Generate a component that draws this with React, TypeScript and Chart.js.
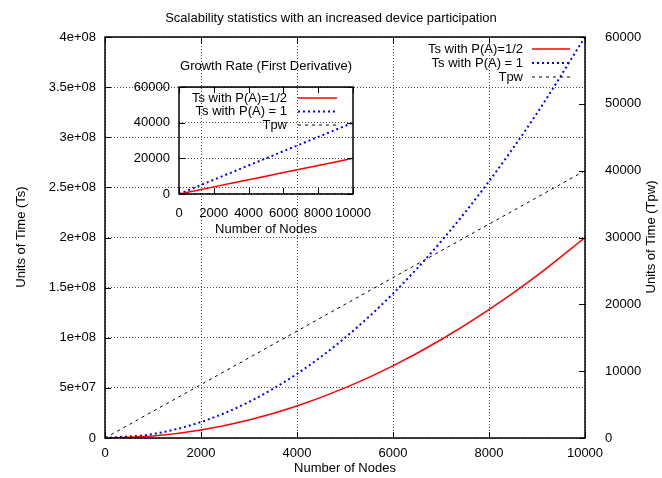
import React, { useEffect, useRef } from "react";
import { Chart, registerables } from "chart.js";

Chart.register(...registerables);

const FONT = '"Liberation Sans", Arial, Helvetica, sans-serif';
const FS = 13;

// ---- data ----
const nodes = [0, 1000, 2000, 3000, 4000, 5000, 6000, 7000, 8000, 9000, 10000];
const tsHalf = [0, 2e6, 8e6, 18e6, 32e6, 50e6, 72e6, 98e6, 128e6, 162e6, 200e6];
const tsOne = [0, 4e6, 16e6, 36e6, 64e6, 100e6, 144e6, 196e6, 256e6, 324e6, 400e6];
const tpw = [0, 4000, 8000, 12000, 16000, 20000, 24000, 28000, 32000, 36000, 40000];

const rateHalf = [0, 2000, 4000, 6000, 8000, 10000, 12000, 14000, 16000, 18000, 20000];
const rateOne = [0, 4000, 8000, 12000, 16000, 20000, 24000, 28000, 32000, 36000, 40000];
const rateTpw = [4, 4, 4, 4, 4, 4, 4, 4, 4, 4, 4];

const seriesLabels = ["Ts with P(A)=1/2", "Ts with P(A) = 1", "Tpw"];
const seriesColors = ["#ff0000", "#0000ff", "#000000"];
const seriesDash = [[], [2, 3], [3, 4]];
const seriesWidth = [1.5, 2, 1];

const mainTitle = "Scalability statistics with an increased device participation";
const insetTitle = "Growth Rate (First Derivative)";
const xTitle = "Number of Nodes";
const yLeftTitle = "Units of Time (Ts)";
const yRightTitle = "Units of Time (Tpw)";

const xTicks = { min: 0, max: 10000, step: 2000 };
const yLeftTicks = { min: 0, max: 4e8, step: 5e7 };
const yRightTicks = { min: 0, max: 60000, step: 10000 };
const insetYTicks = { min: 0, max: 60000, step: 20000 };

function gnuExp(v: number): string {
  if (v === 0) return "0";
  const e = Math.floor(Math.log10(v) + 1e-9);
  const m = Math.round((v / Math.pow(10, e)) * 100) / 100;
  return `${m}e+${String(e).padStart(2, "0")}`;
}

const plain = (v: any) => String(Math.round(Number(v)));

function toPts(xs: number[], ys: number[]) {
  return xs.map((x, i) => ({ x, y: ys[i] }));
}

function font() {
  return `${FS}px ${FONT}`;
}

function drawLegend(ctx: CanvasRenderingContext2D, textRight: number, s1: number, s2: number, rows: number[]) {
  ctx.save();
  ctx.font = font();
  ctx.fillStyle = "#000";
  ctx.textAlign = "right";
  ctx.textBaseline = "middle";
  seriesLabels.forEach((lab, i) => {
    ctx.fillText(lab, textRight, rows[i]);
    ctx.beginPath();
    ctx.strokeStyle = seriesColors[i];
    ctx.lineWidth = seriesWidth[i];
    ctx.setLineDash(seriesDash[i]);
    ctx.moveTo(s1, rows[i]);
    ctx.lineTo(s2, rows[i]);
    ctx.stroke();
  });
  ctx.restore();
}

function drawFrameAndTicks(chart: any, yIds: string[], mirrorY: boolean) {
  const { ctx, chartArea: a, scales } = chart;
  const TL = 6;
  ctx.save();
  ctx.setLineDash([]);
  ctx.strokeStyle = "#000";
  ctx.lineWidth = 1;
  ctx.beginPath();
  scales.x.ticks.forEach((t: any) => {
    const px = Math.round(scales.x.getPixelForValue(t.value)) + 0.5;
    ctx.moveTo(px, a.bottom);
    ctx.lineTo(px, a.bottom - TL);
    ctx.moveTo(px, a.top);
    ctx.lineTo(px, a.top + TL);
  });
  const yl = scales[yIds[0]];
  yl.ticks.forEach((t: any) => {
    const py = Math.round(yl.getPixelForValue(t.value)) + 0.5;
    ctx.moveTo(a.left, py);
    ctx.lineTo(a.left + TL, py);
    if (mirrorY) {
      ctx.moveTo(a.right, py);
      ctx.lineTo(a.right - TL, py);
    }
  });
  if (yIds[1]) {
    const yr = scales[yIds[1]];
    yr.ticks.forEach((t: any) => {
      const py = Math.round(yr.getPixelForValue(t.value)) + 0.5;
      ctx.moveTo(a.right, py);
      ctx.lineTo(a.right - TL, py);
    });
  }
  ctx.stroke();
  ctx.lineWidth = 1.5;
  ctx.strokeRect(a.left, a.top, a.right - a.left, a.bottom - a.top);
  ctx.restore();
}

function text(ctx: CanvasRenderingContext2D, s: string, x: number, y: number, rot = 0) {
  ctx.save();
  ctx.font = font();
  ctx.fillStyle = "#000";
  ctx.textAlign = "center";
  ctx.textBaseline = "middle";
  ctx.translate(x, y);
  if (rot) ctx.rotate(rot);
  ctx.fillText(s, 0, 0);
  ctx.restore();
}

function datasets(ys: number[][], axes: string[], mono: boolean) {
  return ys.map((arr, i) => ({
    label: seriesLabels[i],
    data: toPts(nodes, arr),
    yAxisID: axes[i],
    borderColor: seriesColors[i],
    borderWidth: seriesWidth[i],
    borderDash: seriesDash[i],
    pointRadius: 0,
    fill: false,
    cubicInterpolationMode: mono ? ("monotone" as const) : ("default" as const),
    tension: 0,
  }));
}

const gridStyle = { color: "rgba(0,0,0,0.7)", lineWidth: 1, drawTicks: false };
const tickFont = { size: FS, family: FONT };

export default function App() {
  const mainRef = useRef<HTMLCanvasElement>(null);
  const insetRef = useRef<HTMLCanvasElement>(null);

  useEffect(() => {
    const mainDecor = {
      id: "mainDecor",
      afterDatasetsDraw(chart: any) {
        drawFrameAndTicks(chart, ["y", "y2"], false);
      },
      afterDraw(chart: any) {
        const ctx = chart.ctx;
        text(ctx, mainTitle, 331, 18);
        text(ctx, xTitle, 345, 468);
        text(ctx, yLeftTitle, 21, 237, -Math.PI / 2);
        text(ctx, yRightTitle, 651, 237, -Math.PI / 2);
        drawLegend(ctx, 523, 532, 570, [49, 63, 77]);
      },
    };

    const main = new Chart(mainRef.current!, {
      type: "line",
      data: { datasets: datasets([tsHalf, tsOne, tpw], ["y", "y", "y2"], true) as any },
      options: {
        responsive: false,
        animation: false,
        layout: { padding: { top: 37, right: 0, left: 0, bottom: 0 } },
        plugins: { legend: { display: false }, title: { display: false }, tooltip: { enabled: false } },
        scales: {
          x: {
            type: "linear",
            min: xTicks.min,
            max: xTicks.max,
            afterFit: (s: any) => { s.height = 40; },
            ticks: { stepSize: xTicks.step, color: "#000", font: tickFont, padding: 8, autoSkip: false, maxRotation: 0, minRotation: 0, callback: plain },
            grid: gridStyle,
            border: { display: false, dash: [1, 2] },
          },
          y: {
            type: "linear",
            position: "left",
            min: yLeftTicks.min,
            max: yLeftTicks.max,
            afterFit: (s: any) => { s.width = 105; },
            ticks: { stepSize: yLeftTicks.step, color: "#000", font: tickFont, padding: 9, callback: (v: any) => gnuExp(Number(v)) },
            grid: gridStyle,
            border: { display: false, dash: [1, 2] },
          },
          y2: {
            type: "linear",
            position: "right",
            min: yRightTicks.min,
            max: yRightTicks.max,
            afterFit: (s: any) => { s.width = 77; },
            ticks: { stepSize: yRightTicks.step, color: "#000", font: tickFont, padding: 12, callback: plain },
            grid: { display: false },
            border: { display: false },
          },
        },
      } as any,
      plugins: [mainDecor],
    });

    const insetDecor = {
      id: "insetDecor",
      afterDatasetsDraw(chart: any) {
        drawFrameAndTicks(chart, ["y"], true);
      },
      afterDraw(chart: any) {
        const ctx = chart.ctx;
        // canvas offset: left 120, top 52
        text(ctx, insetTitle, 266 - 120, 66 - 52);
        text(ctx, xTitle, 266 - 120, 229 - 52);
        drawLegend(ctx, 287 - 120, 298 - 120, 337 - 120, [98 - 52, 111.5 - 52, 125 - 52]);
      },
    };

    const inset = new Chart(insetRef.current!, {
      type: "line",
      data: { datasets: datasets([rateHalf, rateOne, rateTpw], ["y", "y", "y"], false) as any },
      options: {
        responsive: false,
        animation: false,
        layout: { padding: { top: 35, right: 27, left: 0, bottom: 0 } },
        plugins: { legend: { display: false }, title: { display: false }, tooltip: { enabled: false } },
        scales: {
          x: {
            type: "linear",
            min: xTicks.min,
            max: xTicks.max,
            afterFit: (s: any) => { s.height = 48; },
            ticks: { stepSize: xTicks.step, color: "#000", font: tickFont, padding: 4, autoSkip: false, maxRotation: 0, minRotation: 0, callback: plain },
            grid: { display: false },
            border: { display: false },
          },
          y: {
            type: "linear",
            min: insetYTicks.min,
            max: insetYTicks.max,
            afterFit: (s: any) => { s.width = 59; },
            ticks: { stepSize: insetYTicks.step, color: "#000", font: tickFont, padding: 9, callback: plain },
            grid: gridStyle,
            border: { display: false, dash: [1, 2] },
          },
        },
      } as any,
      plugins: [insetDecor],
    });

    return () => {
      main.destroy();
      inset.destroy();
    };
  }, []);

  return (
    <div style={{ position: "absolute", left: 0, top: 0, width: 662, height: 478, background: "#fff" }}>
      <canvas ref={mainRef} width={662} height={478} style={{ position: "absolute", left: 0, top: 0, width: 662, height: 478 }} />
      <canvas ref={insetRef} width={260} height={190} style={{ position: "absolute", left: 120, top: 52, width: 260, height: 190 }} />
    </div>
  );
}
